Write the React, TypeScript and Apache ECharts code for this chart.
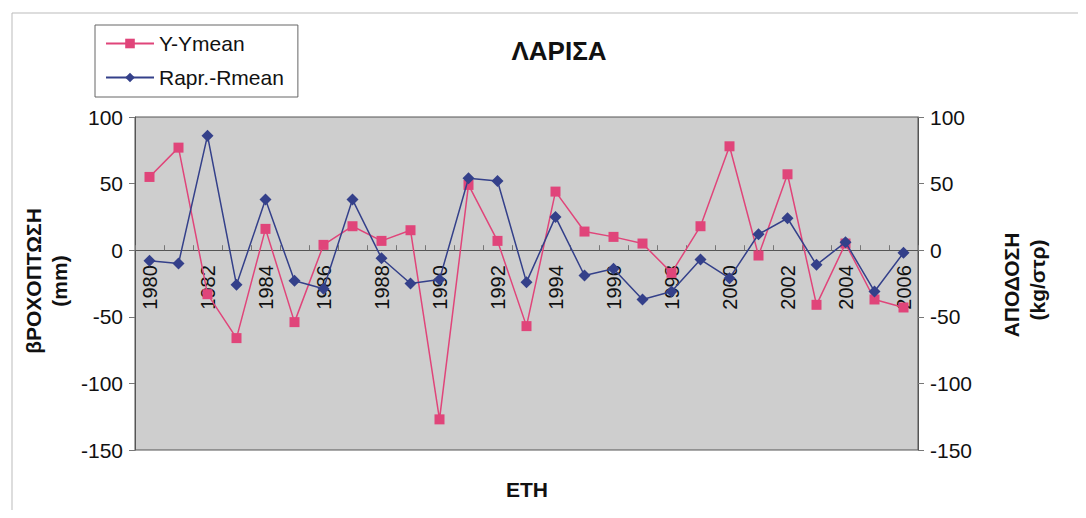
import React, { useEffect, useRef } from "react";
import * as echarts from "echarts";

const years = [
  "1980", "1981", "1982", "1983", "1984", "1985", "1986", "1987", "1988", "1989",
  "1990", "1991", "1992", "1993", "1994", "1995", "1996", "1997", "1998", "1999",
  "2000", "2001", "2002", "2003", "2004", "2005", "2006",
];
const yYmean = [55, 77, -33, -66, 16, -54, 4, 18, 7, 15, -127, 49, 7, -57, 44, 14, 10, 5, -17, 18, 78, -4, 57, -41, 5, -37, -43];
const raprRmean = [-8, -10, 86, -26, 38, -23, -29, 38, -6, -25, -22, 54, 52, -24, 25, -19, -14, -37, -31, -7, -21, 12, 24, -11, 6, -31, -2];

const FONT = "Liberation Sans, Arial, sans-serif";

export default function App() {
  const ref = useRef<HTMLDivElement>(null);
  useEffect(() => {
    if (!ref.current) return;
    const chart = echarts.init(ref.current, undefined, { renderer: "svg" });
    const yAxisCommon = {
      type: "value",
      min: -150,
      max: 100,
      interval: 50,
      splitLine: { show: false },
      axisLine: { show: true, lineStyle: { color: "#555", width: 1 } },
      axisTick: { show: true, length: 6, lineStyle: { color: "#777" } },
      axisLabel: { color: "#111", fontSize: 21, fontFamily: FONT, margin: 12 },
    };
    chart.setOption({
      animation: false,
      backgroundColor: "#ffffff",
      textStyle: { fontFamily: FONT },
      title: {
        text: "ΛΑΡΙΣΑ",
        left: 554,
        top: 33,
        textAlign: "center",
        textStyle: { fontSize: 26, fontWeight: "bold", color: "#111", fontFamily: FONT },
      },
      legend: {
        orient: "vertical",
        left: 95,
        top: 25,
        padding: [8, 14, 9, 10],
        itemGap: 13,
        itemWidth: 48,
        itemHeight: 12,
        borderColor: "#666",
        borderWidth: 1,
        backgroundColor: "#fff",
        borderRadius: 0,
        textStyle: { fontSize: 21, color: "#111", fontFamily: FONT },
        data: ["Y-Ymean", "Rapr.-Rmean"],
      },
      grid: {
        left: 135,
        top: 117,
        right: 168,
        bottom: 68,
        show: true,
        backgroundColor: "#cecece",
        borderColor: "#555",
        borderWidth: 1,
      },
      xAxis: {
        type: "category",
        data: years,
        boundaryGap: true,
        position: "bottom",
        offset: -199.8,
        axisLine: { onZero: false, lineStyle: { color: "#555", width: 1 } },
        axisTick: { show: true, interval: 0, length: 5, inside: true, lineStyle: { color: "#777" } },
        axisLabel: {
          interval: 1,
          rotate: 90,
          fontSize: 20,
          color: "#111",
          fontFamily: FONT,
          margin: 15,
        },
        splitLine: { show: false },
      },
      yAxis: [
        { ...yAxisCommon, position: "left" },
        { ...yAxisCommon, position: "right" },
      ],
      graphic: [
        {
          type: "rect",
          shape: { x: 12, y: 13, width: 1080, height: 500 },
          style: { fill: "none", stroke: "#bbb", lineWidth: 1 },
          silent: true,
          z: -10,
        },
        {
          type: "text",
          x: 33,
          y: 281,
          rotation: Math.PI / 2,
          style: { text: "βΡΟΧΟΠΤΩΣΗ", fontSize: 21, fontWeight: "bold", fill: "#111", fontFamily: FONT, textAlign: "center", textVerticalAlign: "middle" },
        },
        {
          type: "text",
          x: 59,
          y: 281,
          rotation: Math.PI / 2,
          style: { text: "(mm)", fontSize: 21, fontWeight: "bold", fill: "#111", fontFamily: FONT, textAlign: "center", textVerticalAlign: "middle" },
        },
        {
          type: "text",
          x: 1011,
          y: 285,
          rotation: Math.PI / 2,
          style: { text: "ΑΠΟΔΟΣΗ", fontSize: 21, fontWeight: "bold", fill: "#111", fontFamily: FONT, textAlign: "center", textVerticalAlign: "middle" },
        },
        {
          type: "text",
          x: 1037,
          y: 280,
          rotation: Math.PI / 2,
          style: { text: "(kg/στρ)", fontSize: 21, fontWeight: "bold", fill: "#111", fontFamily: FONT, textAlign: "center", textVerticalAlign: "middle" },
        },
        {
          type: "text",
          x: 527,
          y: 489,
          style: { text: "ETH", fontSize: 21, fontWeight: "bold", fill: "#111", fontFamily: FONT, textAlign: "center", textVerticalAlign: "middle" },
        },
      ],
      series: [
        {
          name: "Y-Ymean",
          type: "line",
          yAxisIndex: 1,
          data: yYmean,
          symbol: "rect",
          symbolSize: 10,
          showAllSymbol: true,
          lineStyle: { color: "#e0457a", width: 1.5 },
          itemStyle: { color: "#e0457a" },
          z: 3,
        },
        {
          name: "Rapr.-Rmean",
          type: "line",
          yAxisIndex: 0,
          data: raprRmean,
          symbol: "diamond",
          symbolSize: 12,
          showAllSymbol: true,
          lineStyle: { color: "#34408a", width: 1.5 },
          itemStyle: { color: "#34408a" },
          z: 4,
        },
      ],
    });
    return () => chart.dispose();
  }, []);
  return <div ref={ref} style={{ width: 1086, height: 518, margin: -8 }} />;
}
